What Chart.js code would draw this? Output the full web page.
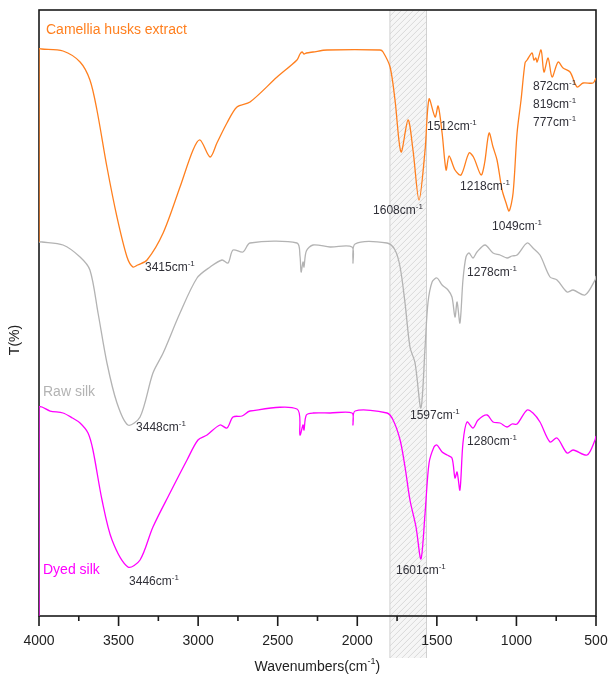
<!DOCTYPE html>
<html>
<head>
<meta charset="utf-8">
<script src="https://cdn.jsdelivr.net/npm/chart.js@4/dist/chart.umd.min.js"></script>
<style>
  body { margin: 0; background: #fff; }
  #chart { display: block; }
</style>
</head>
<body>
<canvas id="chart" width="609" height="678"></canvas>
<script>
// FTIR spectra, offset transmittance (arbitrary units)
const camelliaWn = [4000,4000,3983,3849,3742,3680,3636,3573,3510,3447,3410,3380,3321,3220,3114,3032,2988,2925,2882,2819,2756,2674,2504,2379,2360,2347,2335,2320,2278,2190,1857,1838,1794,1763,1725,1681,1650,1612,1574,1549,1511,1492,1467,1442,1423,1386,1348,1298,1270,1222,1200,1172,1147,1122,1090,1065,1046,1021,996,971,946,933,902,890,878,870,845,827,801,776,738,707,663,619,581,518,500];
const camelliaT = [374,567,567,565,554,536,506,449,399,359,349,351,356,383,429,466,476,459,473,493,509,514,539,556,562,564,562,563,564,566,566,564,549,516,464,496,466,416,466,517,499,510,483,446,460,446,441,463,459,441,453,483,469,456,426,413,405,423,483,516,553,556,563,556,558,554,566,544,558,539,554,548,544,529,533,533,538];

const rawWn = [4000,3981,3849,3742,3680,3629,3573,3510,3441,3365,3284,3220,3114,3007,2925,2850,2812,2781,2718,2674,2379,2360,2353,2341,2335,2320,2278,2171,2033,2027,2014,1813,1763,1731,1700,1669,1637,1600,1574,1556,1530,1499,1467,1430,1405,1386,1373,1355,1336,1317,1298,1273,1248,1197,1147,1103,1059,1028,996,933,896,852,789,745,682,644,569,506,500];
const rawT = [374,374,371,359,346,303,253,213,191,199,243,263,303,338,349,356,353,366,364,373,373,360,344,354,349,365,371,369,369,353,372,373,366,349,313,269,253,208,269,313,334,338,331,326,319,299,314,293,336,359,363,358,364,371,363,361,358,360,361,373,368,361,339,336,324,326,321,336,340];

const dyedWn = [4000,4000,3981,3930,3849,3790,3742,3692,3661,3604,3541,3441,3365,3284,3177,3070,3001,2944,2863,2819,2781,2724,2674,2379,2360,2341,2335,2320,2278,2171,2033,2027,2014,1813,1775,1731,1700,1669,1631,1600,1574,1549,1518,1500,1467,1436,1405,1386,1373,1355,1336,1311,1273,1241,1185,1147,1103,1059,1028,996,933,896,852,789,745,682,644,556,506,500];
const dyedT = [0,209,209,205,203,198,193,183,166,116,76,49,56,89,123,156,176,181,191,188,199,200,205,207,181,191,186,201,203,203,203,191,205,203,196,176,149,116,89,57,103,153,169,171,164,161,158,138,144,126,173,194,188,196,201,194,193,189,192,192,206,203,194,174,178,163,166,161,176,180];

const seriesNames = ['Camellia husks extract', 'Raw silk', 'Dyed silk'];
const xTicks = [4000, 3500, 3000, 2500, 2000, 1500, 1000, 500];
const hatchBand = [1795, 1565];

const FONT = "'Liberation Sans', Arial, sans-serif";
const colors = ['#ff7f1e', '#b3b3b3', '#ff00ff'];

// peak labels: text, anchor wavenumber (left edge), anchor value (middle)
const peakLabels = [
  ['3415', 3334, 348], ['3448', 3390, 188], ['3446', 3434, 34],
  ['1608', 1901, 405], ['1512', 1562, 489], ['1218', 1354, 429],
  ['1049', 1153, 389], ['872', 896, 529], ['819', 896, 511], ['777', 896, 493],
  ['1278', 1310, 343], ['1597', 1669, 200], ['1280', 1310, 174], ['1601', 1757, 45]
];
const nameAnchors = [[3956, 586], [3975, 224], [3975, 46]];

const toPoints = (wn, t) => wn.map((w, i) => ({x: w, y: t[i]}));

// text with a small raised "-1"
const drawCm = (ctx, text, x, y, size, color, center) => {
  ctx.save();
  ctx.fillStyle = color;
  ctx.textBaseline = 'middle';
  ctx.textAlign = 'left';
  ctx.font = `${size}px ${FONT}`;
  const w1 = ctx.measureText(text).width;
  ctx.font = `${Math.round(size * 0.65)}px ${FONT}`;
  const w2 = ctx.measureText('-1').width;
  let x0 = center ? x - (w1 + w2 + (center === 'paren' ? 5 : 0)) / 2 : x;
  ctx.font = `${size}px ${FONT}`;
  ctx.fillText(text, x0, y);
  ctx.font = `${Math.round(size * 0.65)}px ${FONT}`;
  ctx.fillText('-1', x0 + w1, y - size * 0.38);
  if (center === 'paren') {
    ctx.font = `${size}px ${FONT}`;
    ctx.fillText(')', x0 + w1 + w2, y);
  }
  ctx.restore();
};

const bandPlugin = {
  id: 'band',
  beforeDraw(chart) {
    const {ctx, chartArea, scales: {x}} = chart;
    const x1 = x.getPixelForValue(hatchBand[0]);
    const x2 = x.getPixelForValue(hatchBand[1]);
    const top = chartArea.top;
    const bottom = 658;
    ctx.save();
    ctx.fillStyle = '#f6f6f6';
    ctx.fillRect(x1, top, x2 - x1, bottom - top);
    ctx.beginPath();
    ctx.rect(x1, top, x2 - x1, bottom - top);
    ctx.clip();
    ctx.strokeStyle = '#d2d2d2';
    ctx.lineWidth = 0.8;
    ctx.beginPath();
    for (let s = top - (x2 - x1); s < bottom + (x2 - x1); s += 6) {
      ctx.moveTo(x1, s + (x2 - x1));
      ctx.lineTo(x2, s);
    }
    ctx.stroke();
    ctx.restore();
    ctx.save();
    ctx.strokeStyle = '#d0d0d0';
    ctx.lineWidth = 1;
    ctx.beginPath();
    ctx.moveTo(x1, top); ctx.lineTo(x1, bottom);
    ctx.moveTo(x2, top); ctx.lineTo(x2, bottom);
    ctx.stroke();
    ctx.restore();
  },
  beforeDatasetsDraw(chart) {
    const {ctx, chartArea} = chart;
    ctx.save();
    ctx.strokeStyle = '#1a1a1a';
    ctx.lineWidth = 1.6;
    ctx.strokeRect(chartArea.left, chartArea.top, chartArea.right - chartArea.left, chartArea.bottom - chartArea.top);
    ctx.restore();
  },
  afterDraw(chart) {
    const {ctx, chartArea, scales: {x, y}} = chart;
    ctx.save();
    // tick marks, major every 500, minor every 250
    ctx.strokeStyle = '#1a1a1a';
    ctx.lineWidth = 1.6;
    ctx.beginPath();
    for (let v = 500; v <= 4000; v += 250) {
      const px = x.getPixelForValue(v);
      const len = xTicks.includes(v) ? 10 : 5;
      ctx.moveTo(px, chartArea.bottom);
      ctx.lineTo(px, chartArea.bottom + len);
    }
    ctx.stroke();

    // series names
    ctx.font = `14px ${FONT}`;
    ctx.textBaseline = 'middle';
    seriesNames.forEach((name, i) => {
      ctx.fillStyle = colors[i];
      ctx.fillText(name, x.getPixelForValue(nameAnchors[i][0]), y.getPixelForValue(nameAnchors[i][1]));
    });

    // peak labels
    peakLabels.forEach(([t, wn, v]) => {
      drawCm(ctx, t + 'cm', x.getPixelForValue(wn), y.getPixelForValue(v), 12, '#303038', false);
    });

    // axis titles
    drawCm(ctx, 'Wavenumbers(cm', (chartArea.left + chartArea.right) / 2, 667, 14, '#222', 'paren');
    ctx.translate(15, 340);
    ctx.rotate(-Math.PI / 2);
    ctx.font = `14px ${FONT}`;
    ctx.fillStyle = '#222';
    ctx.textAlign = 'center';
    ctx.fillText('T(%)', 0, 0);
    ctx.restore();
  }
};

const lineSet = (label, pts, color) => ({
  label, data: pts, borderColor: color, borderWidth: 1.3,
  pointRadius: 0, tension: 0.3, fill: false
});

new Chart(document.getElementById('chart'), {
  type: 'line',
  data: {
    datasets: [
      lineSet(seriesNames[0], toPoints(camelliaWn, camelliaT), colors[0]),
      lineSet(seriesNames[1], toPoints(rawWn, rawT), colors[1]),
      lineSet(seriesNames[2], toPoints(dyedWn, dyedT), colors[2])
    ]
  },
  options: {
    responsive: false,
    animation: false,
    devicePixelRatio: 1,
    layout: {padding: {left: 39, right: 13, top: 10, bottom: 0}},
    plugins: {legend: {display: false}, tooltip: {enabled: false}},
    scales: {
      x: {
        type: 'linear', reverse: true, min: 500, max: 4000,
        grid: {display: false, drawTicks: false},
        border: {display: false},
        ticks: {
          stepSize: 250, autoSkip: false, maxRotation: 0, padding: 17,
          color: '#222', font: {size: 14, family: FONT},
          callback: (v) => xTicks.includes(v) ? String(v) : ''
        },
        afterFit: (s) => { s.height = 62; s.paddingLeft = 0; s.paddingRight = 0; }
      },
      y: {display: false, min: 0, max: 606}
    }
  },
  plugins: [bandPlugin]
});
</script>
</body>
</html>
